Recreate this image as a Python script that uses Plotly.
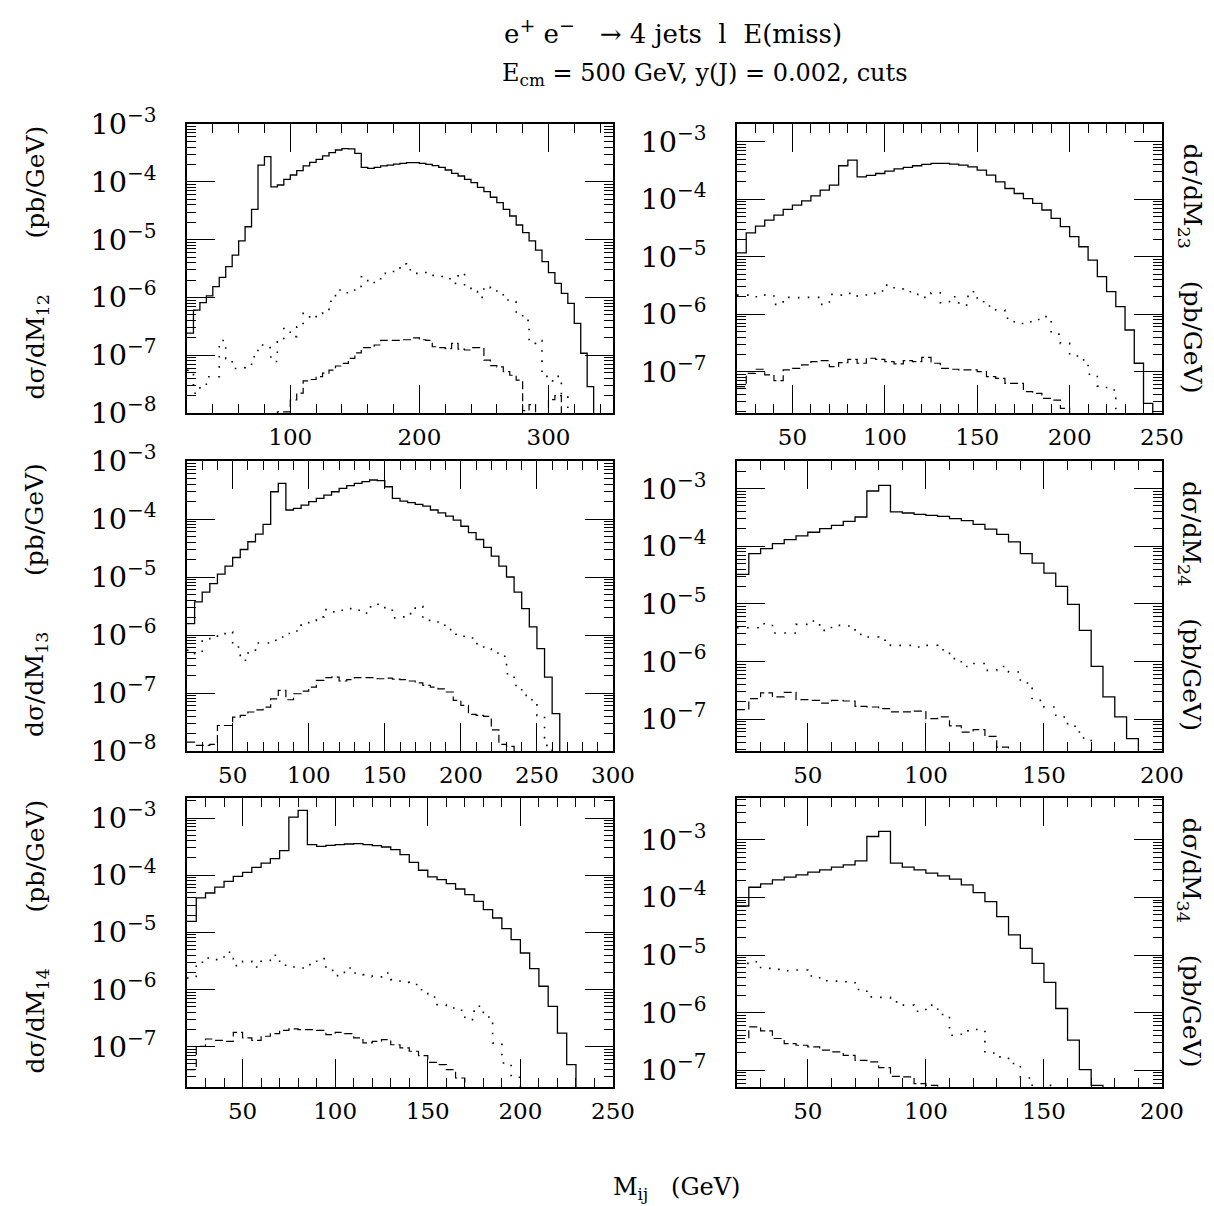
import plotly.graph_objects as go

FONT = "DejaVu Serif"
W, H = 1214, 1206

# ---------------- data (bin width 5 GeV, first bin starts at 20 GeV) ----------------
bin_width = 5
bin_start = 20

m12_solid = [2.4e-7, 6.0e-7, 8.1e-7, 1.06e-6, 1.53e-6, 2.22e-6, 3.4e-6, 5.4e-6, 9.5e-6, 1.67e-5,
             3.34e-5, 1.95e-4, 2.72e-4, 8.2e-5, 8.8e-5, 1.1e-4, 1.31e-4, 1.56e-4, 1.88e-4, 2.17e-4,
             2.45e-4, 2.8e-4, 3.19e-4, 3.55e-4, 3.74e-4, 3.7e-4, 3.11e-4, 1.78e-4, 1.71e-4, 1.78e-4,
             1.88e-4, 1.95e-4, 2.03e-4, 2.09e-4, 2.14e-4, 2.14e-4, 2.09e-4, 2.0e-4, 1.9e-4, 1.78e-4,
             1.6e-4, 1.4e-4, 1.26e-4, 1.1e-4, 9.7e-5, 8.0e-5, 6.75e-5, 5.4e-5, 4.36e-5, 3.34e-5,
             2.56e-5, 1.79e-5, 1.32e-5, 9.5e-6, 6.6e-6, 4.15e-6, 2.68e-6, 1.75e-6, 1.17e-6, 7.9e-7,
             3.56e-7, 1.08e-7, 2.86e-8, 0, 0, 0]
m12_dotted = [5.5e-8, 2.2e-8, 2.9e-8, 4.25e-8, 4.25e-8, 1.8e-7, 8.7e-8, 5.9e-8, 6.1e-8, 6.3e-8,
              9.4e-8, 1.5e-7, 1.35e-7, 7.8e-8, 1.7e-7, 2.9e-7, 2.1e-7, 3.1e-7, 5.3e-7, 4.3e-7,
              5.3e-7, 5.7e-7, 8.6e-7, 1.34e-6, 1.2e-6, 1.34e-6, 1.55e-6, 2.28e-6, 1.75e-6, 2.1e-6,
              2.6e-6, 2.7e-6, 3.1e-6, 3.8e-6, 3.0e-6, 2.6e-6, 2.6e-6, 2.7e-6, 2.4e-6, 2.3e-6,
              2.1e-6, 1.75e-6, 2.6e-6, 1.6e-6, 1.26e-6, 1.0e-6, 1.55e-6, 1.45e-6, 1.17e-6, 9.0e-7,
              8.3e-7, 5.3e-7, 4.0e-7, 1.6e-7, 1.8e-7, 4.3e-8, 3.6e-8, 4.3e-8, 2.1e-8, 0,
              0, 0, 0, 0, 0, 0]
m12_dashed = [0, 0, 0, 0, 0, 0, 0, 0, 0, 0,
              0, 0, 0, 0, 1.05e-8, 1.05e-8, 1.68e-8, 2.2e-8, 3.6e-8, 3.8e-8,
              4.25e-8, 4.9e-8, 5.5e-8, 6.5e-8, 7.2e-8, 8.8e-8, 1.1e-7, 1.35e-7, 1.35e-7, 1.5e-7,
              1.8e-7, 1.8e-7, 1.8e-7, 1.85e-7, 1.85e-7, 2.0e-7, 1.85e-7, 1.8e-7, 1.4e-7, 1.35e-7,
              1.3e-7, 1.6e-7, 1.27e-7, 1.23e-7, 1.35e-7, 1.35e-7, 8.2e-8, 6.6e-8, 6.3e-8, 5.2e-8,
              4.5e-8, 3.7e-8, 1.1e-8, 1.4e-8, 0, 0, 1.7e-8, 2.0e-8, 0, 0,
              0, 0, 0, 0, 0, 0]

m23_solid = [1.17e-5, 2.61e-5, 3.41e-5, 4.35e-5, 5.3e-5, 6.66e-5, 7.9e-5, 9.4e-5, 1.15e-4, 1.44e-4,
             1.76e-4, 3.83e-4, 4.8e-4, 2.46e-4, 2.6e-4, 2.81e-4, 3.09e-4, 3.39e-4, 3.58e-4, 3.83e-4,
             4.04e-4, 4.2e-4, 4.2e-4, 4.09e-4, 3.93e-4, 3.67e-4, 3.21e-4, 2.63e-4, 2.01e-4, 1.54e-4,
             1.26e-4, 1.03e-4, 8.5e-5, 6.5e-5, 4.65e-5, 3.33e-5, 2.23e-5, 1.49e-5, 8.75e-6, 4.5e-6,
             2.46e-6, 1.35e-6, 5.3e-7, 1.4e-7, 2.8e-8, 0]
m23_dotted = [2.15e-6, 2.15e-6, 2.01e-6, 2.15e-6, 1.48e-6, 1.96e-6, 1.94e-6, 1.96e-6, 1.96e-6, 1.48e-6,
              2.21e-6, 2.15e-6, 2.3e-6, 2.07e-6, 2.3e-6, 2.53e-6, 3.21e-6, 2.74e-6, 2.46e-6, 2.21e-6,
              1.96e-6, 2.36e-6, 1.58e-6, 2.01e-6, 1.44e-6, 2.46e-6, 1.65e-6, 1.39e-6, 1.18e-6, 8.5e-7,
              6.9e-7, 7.4e-7, 8.1e-7, 9.05e-7, 4.5e-7, 3.1e-7, 1.87e-7, 1.6e-7, 9.0e-8, 5.6e-8,
              4.8e-8, 0, 0, 0, 0, 0]
m23_dashed = [5.5e-8, 9.35e-8, 1.1e-7, 8.75e-8, 7.0e-8, 1.07e-7, 1.14e-7, 1.31e-7, 1.49e-7, 1.55e-7,
              1.22e-7, 1.43e-7, 1.64e-7, 1.4e-7, 1.71e-7, 1.64e-7, 1.49e-7, 1.36e-7, 1.55e-7, 1.49e-7,
              1.77e-7, 1.4e-7, 1.14e-7, 1.1e-7, 1.07e-7, 1.07e-7, 1.0e-7, 8.2e-8, 7.65e-8, 6.26e-8,
              6.26e-8, 4.5e-8, 4.2e-8, 3.43e-8, 3.2e-8, 2.3e-8, 0, 0, 0, 0,
              0, 0, 0, 0, 0, 0]

m13_solid = [1.57e-6, 3.72e-6, 5.5e-6, 7.7e-6, 1.12e-5, 1.54e-5, 2.17e-5, 2.98e-5, 4.05e-5, 5.5e-5,
             8.05e-5, 2.95e-4, 4.11e-4, 1.43e-4, 1.52e-4, 1.74e-4, 1.99e-4, 2.26e-4, 2.59e-4, 2.95e-4,
             3.37e-4, 3.75e-4, 4.11e-4, 4.4e-4, 4.7e-4, 4.57e-4, 3.6e-4, 2.26e-4, 2.04e-4, 1.91e-4,
             1.79e-4, 1.67e-4, 1.43e-4, 1.28e-4, 1.12e-4, 9.6e-5, 7.5e-5, 5.8e-5, 4.43e-5, 3.23e-5,
             2.29e-5, 1.54e-5, 1.0e-5, 5.5e-6, 2.85e-6, 1.38e-6, 5.8e-7, 1.88e-7, 4.4e-8, 0,
             0, 0, 0, 0, 0, 0]
m13_dotted = [5.45e-7, 4.77e-7, 8.65e-7, 9.25e-7, 9.9e-7, 1.13e-6, 6.2e-7, 3.66e-7, 4.9e-7, 7.3e-7,
              7.3e-7, 8.1e-7, 9.25e-7, 1.06e-6, 1.17e-6, 1.57e-6, 1.79e-6, 2.05e-6, 2.74e-6, 2.5e-6,
              2.67e-6, 2.85e-6, 2.67e-6, 2.4e-6, 3.05e-6, 3.39e-6, 2.67e-6, 1.97e-6, 2.05e-6, 2.34e-6,
              3.13e-6, 1.79e-6, 1.79e-6, 1.47e-6, 1.24e-6, 1.03e-6, 9.5e-7, 8.9e-7, 7.1e-7, 5.8e-7,
              4.9e-7, 4.3e-7, 2.15e-7, 1.35e-7, 9.1e-8, 7.65e-8, 4.1e-8, 1.25e-8, 0, 0,
              0, 0, 0, 0, 0, 0]
m13_dashed = [1.42e-8, 1.25e-8, 1.25e-8, 1.3e-8, 2.75e-8, 2.75e-8, 3.84e-8, 4.1e-8, 4.7e-8, 5.1e-8,
              5.7e-8, 7.95e-8, 1.11e-7, 7.65e-8, 9.7e-8, 1.08e-7, 1.26e-7, 1.65e-7, 1.84e-7, 1.88e-7,
              1.61e-7, 1.7e-7, 1.84e-7, 1.84e-7, 1.84e-7, 1.76e-7, 1.81e-7, 1.74e-7, 1.7e-7, 1.61e-7,
              1.49e-7, 1.35e-7, 1.26e-7, 1.18e-7, 1.04e-7, 7.45e-8, 6.1e-8, 4.27e-8, 4.1e-8, 3.94e-8,
              2.32e-8, 1.3e-8, 1.2e-8, 0, 0, 0, 0, 0, 0, 0,
              0, 0, 0, 0, 0, 0]

m24_solid = [3.26e-5, 7.45e-5, 9.1e-5, 1.11e-4, 1.3e-4, 1.51e-4, 1.75e-4, 2.02e-4, 2.31e-4, 2.71e-4,
             3.22e-4, 9.1e-4, 1.14e-3, 3.94e-4, 3.78e-4, 3.58e-4, 3.44e-4, 3.31e-4, 3.01e-4, 2.78e-4,
             2.4e-4, 1.99e-4, 1.61e-4, 1.19e-4, 7.45e-5, 5.1e-5, 3.43e-5, 2.01e-5, 9.8e-6, 3.47e-6,
             8.2e-7, 2.42e-7, 1.09e-7, 4.57e-8, 0, 0]
m24_dotted = [3.86e-6, 3.86e-6, 4.53e-6, 3.12e-6, 3.12e-6, 4.41e-6, 5.05e-6, 3.47e-6, 4.24e-6, 4.13e-6,
              2.96e-6, 2.66e-6, 2.33e-6, 1.9e-6, 1.9e-6, 1.78e-6, 1.9e-6, 1.6e-6, 1.12e-6, 8.2e-7,
              9.2e-7, 7.0e-7, 8.2e-7, 6.56e-7, 4.23e-7, 2.11e-7, 1.62e-7, 1.09e-7, 7.5e-8, 4.7e-8,
              0, 0, 0, 0, 0, 0]
m24_dashed = [1.46e-7, 2.26e-7, 2.84e-7, 2.42e-7, 2.91e-7, 2.17e-7, 2.11e-7, 1.9e-7, 2.11e-7, 2.06e-7,
              1.66e-7, 1.62e-7, 1.52e-7, 1.33e-7, 1.33e-7, 1.38e-7, 1.02e-7, 1.09e-7, 7.6e-8, 5.96e-8,
              6.55e-8, 5.0e-8, 3.27e-8, 0, 0, 0, 0, 0, 0, 0,
              0, 0, 0, 0, 0, 0]

m14_solid = [1.56e-5, 3.99e-5, 4.88e-5, 6.2e-5, 7.8e-5, 9.5e-5, 1.12e-4, 1.37e-4, 1.63e-4, 1.95e-4,
             2.68e-4, 1.04e-3, 1.36e-3, 3.42e-4, 3.19e-4, 3.33e-4, 3.42e-4, 3.51e-4, 3.56e-4, 3.42e-4,
             3.28e-4, 3.11e-4, 2.79e-4, 2.29e-4, 1.68e-4, 1.22e-4, 9.3e-5, 8.35e-5, 7.1e-5, 5.73e-5,
             4.56e-5, 3.49e-5, 2.49e-5, 1.78e-5, 1.16e-5, 7.45e-6, 4.35e-6, 2.31e-6, 1.14e-6, 5.08e-7,
             1.73e-7, 4.84e-8, 0, 0, 0, 0]
m14_dotted = [1.59e-6, 2.99e-6, 3.56e-6, 3.33e-6, 4.47e-6, 2.61e-6, 3.11e-6, 2.48e-6, 3.11e-6, 3.96e-6,
              2.65e-6, 2.48e-6, 2.38e-6, 2.72e-6, 3.46e-6, 2.16e-6, 1.75e-6, 2.38e-6, 1.94e-6, 1.82e-6,
              1.66e-6, 1.94e-6, 1.49e-6, 1.33e-6, 1.22e-6, 9.9e-7, 7.4e-7, 5.43e-7, 4.75e-7, 4.32e-7,
              2.97e-7, 5.08e-7, 3.3e-7, 1.16e-7, 5.18e-8, 2.91e-8, 0, 0, 0, 0,
              0, 0, 0, 0, 0, 0]
m14_dashed = [3.96e-8, 1.01e-7, 1.36e-7, 1.29e-7, 1.24e-7, 1.78e-7, 1.42e-7, 1.29e-7, 1.52e-7, 1.69e-7,
              1.93e-7, 2.04e-7, 1.98e-7, 1.98e-7, 1.93e-7, 1.62e-7, 1.78e-7, 1.69e-7, 1.42e-7, 1.16e-7,
              1.24e-7, 1.33e-7, 1.08e-7, 9.5e-8, 8.3e-8, 6.96e-8, 5.32e-8, 4.84e-8, 3.96e-8, 2.83e-8,
              0, 0, 0, 0, 0, 0, 0, 0, 0, 0,
              0, 0, 0, 0, 0, 0]

m34_solid = [7.1e-5, 1.5e-4, 1.72e-4, 2.01e-4, 2.24e-4, 2.46e-4, 2.74e-4, 3.01e-4, 3.35e-4, 3.67e-4,
             4.31e-4, 1.14e-3, 1.4e-3, 3.93e-4, 3.35e-4, 3.01e-4, 2.63e-4, 2.37e-4, 2.07e-4, 1.65e-4,
             1.21e-4, 8.47e-5, 4.65e-5, 2.23e-5, 1.31e-5, 7.16e-6, 3.35e-6, 1.18e-6, 3.33e-7, 1.03e-7,
             5.48e-8, 0, 0, 0, 0, 0]
m34_dotted = [7.16e-6, 7.66e-6, 5.86e-6, 5.63e-6, 5.34e-6, 5.49e-6, 4.32e-6, 3.58e-6, 3.53e-6, 3.44e-6,
              2.53e-6, 1.88e-6, 1.84e-6, 1.54e-6, 1.35e-6, 1.06e-6, 1.35e-6, 9.3e-7, 4.06e-7, 4.83e-7,
              5.09e-7, 2.0e-7, 1.71e-7, 1.31e-7, 7.36e-8, 0, 5.48e-8, 0, 0, 0,
              0, 0, 0, 0, 0, 0]
m34_dashed = [3.56e-7, 5.68e-7, 4.83e-7, 3.56e-7, 2.91e-7, 2.72e-7, 2.55e-7, 2.23e-7, 2.09e-7, 1.82e-7,
              1.49e-7, 1.4e-7, 1.11e-7, 7.87e-8, 7.66e-8, 5.86e-8, 5.48e-8, 0, 0, 0,
              0, 0, 0, 0, 0, 0, 0, 0, 0, 0,
              0, 0, 0, 0, 0, 0]

# ---------------- panel configuration ----------------
panels = [
    dict(lab="12", solid=m12_solid, dotted=m12_dotted, dashed=m12_dashed,
         xr=[20, 350], yr=[-8, -3], xd=100, xm=20, col=0, row=0),
    dict(lab="23", solid=m23_solid, dotted=m23_dotted, dashed=m23_dashed,
         xr=[20, 250], yr=[-7.72, -2.69], xd=50, xm=10, col=1, row=0),
    dict(lab="13", solid=m13_solid, dotted=m13_dotted, dashed=m13_dashed,
         xr=[20, 300], yr=[-8, -3], xd=50, xm=10, col=0, row=1),
    dict(lab="24", solid=m24_solid, dotted=m24_dotted, dashed=m24_dashed,
         xr=[20, 200], yr=[-7.554, -2.52], xd=50, xm=10, col=1, row=1),
    dict(lab="14", solid=m14_solid, dotted=m14_dotted, dashed=m14_dashed,
         xr=[20, 250], yr=[-7.706, -2.65], xd=50, xm=10, col=0, row=2),
    dict(lab="34", solid=m34_solid, dotted=m34_dotted, dashed=m34_dashed,
         xr=[20, 200], yr=[-7.29, -2.275], xd=50, xm=10, col=1, row=2),
]

col_px = [(187, 613), (737, 1162)]
row_px = [(124, 413), (461, 751), (798, 1087)]

styles = [("solid", "solid", 1.3), ("dotted", "1.6px,8.5px", 1.6), ("dashed", "8px,4px", 1.2)]

fig = go.Figure()
layout = dict(width=W, height=H, margin=dict(l=0, r=0, t=0, b=0, autoexpand=False),
              paper_bgcolor="white", plot_bgcolor="white", showlegend=False)
annotations = []
nb = "\u00a0"

for i, p in enumerate(panels):
    n = i + 1
    xa = "x" if n == 1 else f"x{n}"
    ya = "y" if n == 1 else f"y{n}"
    floor = 10 ** (p["yr"][0] - 0.6)
    for key, dash, wid in styles:
        vals = p[key]
        edges = [bin_start + bin_width * k for k in range(len(vals) + 1)]
        yv = [v if v > 0 else floor for v in vals]
        yv = yv + [yv[-1]]
        fig.add_trace(go.Scatter(x=edges, y=yv, mode="lines", xaxis=xa, yaxis=ya,
                                 line=dict(shape="hv", color="black", width=wid, dash=dash),
                                 hoverinfo="skip"))
    x0, x1 = col_px[p["col"]]
    y0, y1 = row_px[p["row"]]
    xdom = [x0 / W, x1 / W]
    ydom = [1 - y1 / H, 1 - y0 / H]
    common_tick = dict(ticks="inside", ticklen=28, tickwidth=1.2, tickcolor="black",
                       showline=True, linecolor="black", linewidth=1.5, mirror="ticks",
                       showgrid=False, zeroline=False, automargin=False,
                       tickfont=dict(family=FONT, size=23, color="black"))
    layout["xaxis" if n == 1 else f"xaxis{n}"] = dict(
        domain=xdom, anchor=ya, range=p["xr"], dtick=p["xd"], tick0=0,
        minor=dict(dtick=p["xm"], tick0=0, ticks="inside", ticklen=9, tickwidth=1.2,
                   tickcolor="black", showgrid=False),
        ticklabelstandoff=3, **common_tick)
    layout["yaxis" if n == 1 else f"yaxis{n}"] = dict(
        domain=ydom, anchor=xa, type="log", range=p["yr"], dtick=1,
        exponentformat="power",
        minor=dict(dtick="D1", ticks="inside", ticklen=9, tickwidth=1.2,
                   tickcolor="black", showgrid=False),
        ticklabelstandoff=24, **common_tick)
    # y-axis titles
    ycen_px = (y0 + y1) / 2
    if p["col"] == 0:
        txt = f"d\u03c3/dM<sub>{p['lab']}</sub>{nb*7}(pb/GeV)"
        annotations.append(dict(x=36 / W, y=1 - (ycen_px - 6) / H, xref="paper", yref="paper",
                                text=txt, textangle=-90, showarrow=False,
                                xanchor="center", yanchor="middle",
                                font=dict(family=FONT, size=25, color="black")))
    else:
        txt = f"d\u03c3/dM<sub>{p['lab']}</sub>{nb*4}(pb/GeV)"
        annotations.append(dict(x=1190 / W, y=1 - ycen_px / H, xref="paper", yref="paper",
                                text=txt, textangle=90, showarrow=False,
                                xanchor="center", yanchor="middle",
                                font=dict(family=FONT, size=25, color="black")))

# title lines
sup_plus = "<sup><span style='font-size:19px'>+</span></sup>"
sup_minus = "<sup><span style='font-size:19px'>\u2212</span></sup>"
annotations.append(dict(x=502 / W, y=1 - 31 / H, xref="paper", yref="paper",
                        text=f"e{sup_plus}{nb}e{sup_minus}{nb*3}\u2192{nb}4 jets{nb}{nb}l{nb}{nb}E(miss)",
                        showarrow=False, xanchor="left", yanchor="middle",
                        font=dict(family=FONT, size=26, color="black")))
annotations.append(dict(x=500 / W, y=1 - 74 / H, xref="paper", yref="paper",
                        text="E<sub>cm</sub> = 500 GeV, y(J) = 0.002, cuts",
                        showarrow=False, xanchor="left", yanchor="middle",
                        font=dict(family=FONT, size=24, color="black")))
annotations.append(dict(x=676 / W, y=1 - 1188 / H, xref="paper", yref="paper",
                        text=f"M<sub>ij</sub>{nb*3}(GeV)",
                        showarrow=False, xanchor="center", yanchor="middle",
                        font=dict(family=FONT, size=24, color="black")))

layout["annotations"] = annotations
fig.update_layout(**layout)
fig.write_html("out.html",
               post_script="document.body.style.margin='0';document.body.style.overflow='hidden';")
